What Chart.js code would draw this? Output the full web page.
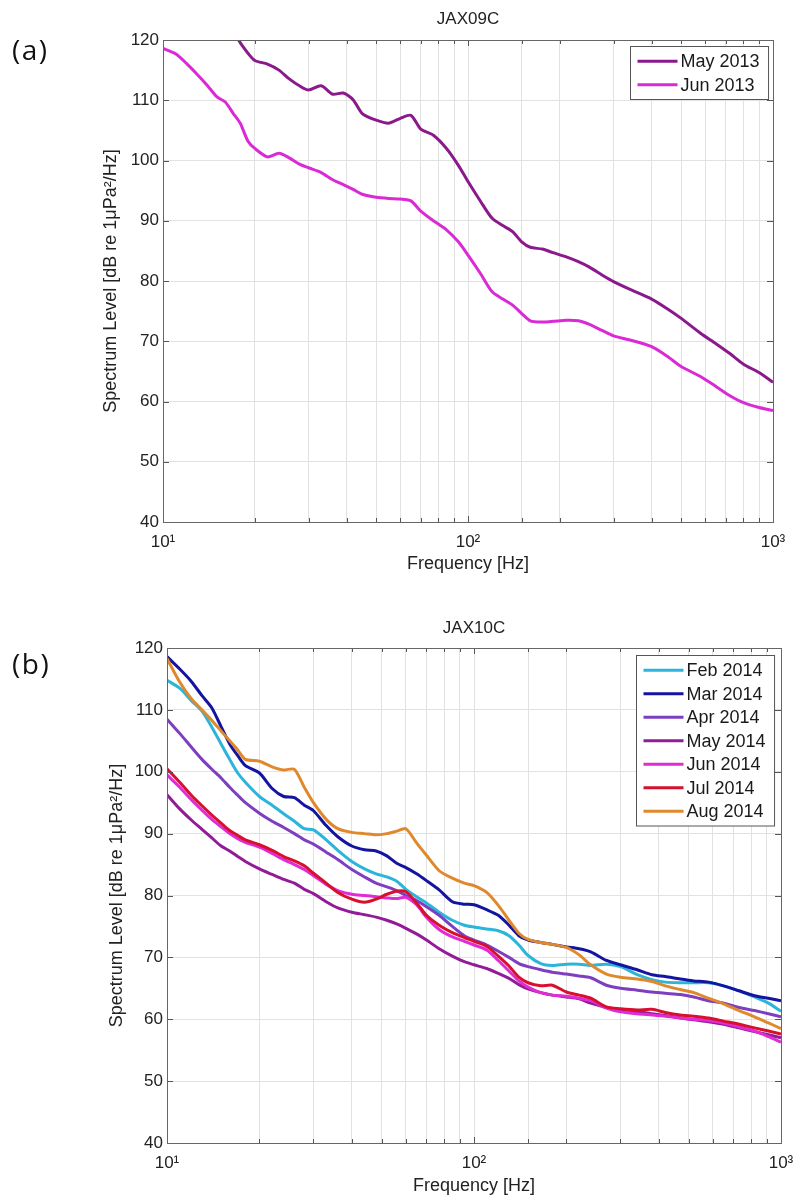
<!DOCTYPE html>
<html><head><meta charset="utf-8">
<script src="https://cdn.jsdelivr.net/npm/chart.js@4.4.0/dist/chart.umd.min.js"></script>
<style>
html,body{margin:0;padding:0;background:#fff;}
#wrap{position:relative;width:794px;height:1199px;overflow:hidden;background:#fff;}
canvas{position:absolute;left:0;}
#ca{top:0;} #cb{top:590px;}
.tag{position:absolute;left:12px;font-family:"Open Sans",sans-serif;font-size:28px;line-height:28px;letter-spacing:1.5px;color:#111;}
</style></head><body>
<div id="wrap">
<canvas id="ca" width="794" height="590"></canvas>
<canvas id="cb" width="794" height="609"></canvas>
<div class="tag" style="top:35px">(a)</div>
<div class="tag" style="top:649px">(b)</div>
</div>
<script>
// ---------- data ----------
const xTickValues = [10, 100, 1000];
const xTickLabels = ['10\u00B9', '10\u00B2', '10\u00B3'];

const freqA = [10, 11, 12, 13, 14, 15, 16, 17, 17.7, 18, 19, 20, 22, 24, 26, 28, 30, 33, 36, 39, 42, 45, 50, 55, 60, 65, 70, 77, 85, 93, 100, 110, 120, 130, 140, 150, 160, 175, 190, 210, 230, 250, 275, 300, 340, 400, 450, 500, 580, 650, 720, 800, 900, 1000];
const may2013 = [null, null, null, null, null, null, null, null, 120.0, 119.4, 117.8, 116.6, 116.0, 115.0, 113.5, 112.4, 111.7, 112.4, 111.0, 111.2, 110.1, 107.8, 106.7, 106.2, 107.0, 107.5, 105.2, 104.2, 102.0, 99.2, 96.5, 93.2, 90.4, 89.2, 88.2, 86.5, 85.6, 85.3, 84.7, 84.0, 83.2, 82.3, 81.0, 79.9, 78.6, 77.0, 75.4, 73.8, 71.3, 69.6, 68.0, 66.2, 64.8, 63.2];
const jun2013 = [118.6, 117.7, 116.0, 114.2, 112.4, 110.6, 109.7, 107.8, 106.6, 106.0, 103.2, 102.0, 100.6, 101.2, 100.4, 99.4, 98.8, 98.0, 96.8, 96.0, 95.2, 94.4, 93.9, 93.7, 93.6, 93.3, 91.6, 90.0, 88.5, 86.5, 84.3, 81.2, 78.2, 77.0, 76.0, 74.6, 73.4, 73.2, 73.3, 73.5, 73.4, 72.8, 71.8, 70.9, 70.2, 69.1, 67.5, 65.8, 64.1, 62.5, 61.0, 59.8, 59.0, 58.5];

const freqB = [10, 11, 12, 13, 14, 15, 16, 17, 18, 20, 22, 24, 26, 28, 30, 33, 36, 40, 44, 48, 52, 56, 60, 65, 70, 77, 85, 93, 100, 110, 120, 130, 140, 150, 165, 180, 200, 220, 240, 270, 300, 340, 380, 420, 470, 520, 580, 650, 730, 820, 910, 1000];
const feb2014 = [114.8, 113.5, 111.5, 109.8, 107.2, 104.5, 102.0, 99.8, 98.3, 96.0, 94.6, 93.2, 92.0, 90.8, 90.6, 89.0, 87.3, 85.5, 84.3, 83.5, 83.0, 82.3, 81.0, 79.8, 78.8, 77.3, 76.0, 75.2, 74.9, 74.6, 74.3, 73.5, 72.0, 70.3, 69.0, 68.7, 68.9, 68.9, 68.7, 68.9, 68.5, 67.2, 66.4, 66.0, 65.9, 65.9, 65.9, 65.4, 64.6, 63.6, 62.6, 61.3];
const mar2014 = [118.6, 116.6, 114.6, 112.3, 110.3, 107.3, 104.5, 102.6, 101.0, 99.8, 97.3, 96.0, 95.8, 94.6, 93.7, 91.3, 89.5, 88.0, 87.4, 87.2, 86.4, 85.2, 84.5, 83.5, 82.4, 80.9, 79.0, 78.6, 78.5, 77.7, 76.8, 75.2, 73.5, 72.8, 72.4, 72.1, 71.7, 71.4, 70.9, 69.5, 68.8, 68.0, 67.2, 66.9, 66.5, 66.2, 66.0, 65.4, 64.6, 63.8, 63.4, 63.0];
const apr2014 = [108.5, 106.2, 104.0, 102.0, 100.4, 99.0, 97.5, 96.2, 95.0, 93.3, 92.0, 91.0, 90.0, 89.0, 88.3, 87.0, 85.8, 84.2, 83.0, 82.0, 81.4, 80.8, 80.0, 79.2, 78.2, 76.8, 75.0, 73.5, 72.8, 72.0, 71.0, 70.0, 69.0, 68.5, 68.0, 67.6, 67.3, 67.0, 66.7, 65.5, 65.0, 64.7, 64.4, 64.2, 64.0, 63.6, 63.0, 62.6, 61.9, 61.4, 60.9, 60.4];
const may2014 = [96.3, 94.0, 92.2, 90.7, 89.3, 88.0, 87.2, 86.3, 85.5, 84.3, 83.4, 82.6, 82.0, 81.0, 80.3, 79.0, 78.0, 77.3, 76.9, 76.5, 76.0, 75.4, 74.7, 73.8, 72.8, 71.4, 70.2, 69.3, 68.8, 68.2, 67.4, 66.6, 65.6, 64.9, 64.3, 63.9, 63.6, 63.3, 62.6, 61.9, 61.4, 61.2, 60.9, 60.6, 60.2, 59.9, 59.6, 59.2, 58.6, 58.0, 57.5, 57.0];
const jun2014 = [99.5, 97.5, 95.5, 93.8, 92.3, 91.1, 90.0, 89.2, 88.6, 87.8, 86.8, 85.8, 85.0, 84.2, 83.2, 81.8, 80.8, 80.2, 80.0, 79.8, 79.6, 79.5, 79.7, 78.5, 76.5, 74.5, 73.3, 72.6, 72.0, 71.2, 69.5, 67.8, 66.2, 65.2, 64.3, 63.9, 63.7, 63.4, 63.0, 61.8, 61.2, 60.9, 60.7, 60.5, 60.2, 60.0, 59.8, 59.4, 58.8, 58.1, 57.2, 56.3];
const jul2014 = [100.5, 98.3, 96.2, 94.5, 93.0, 91.7, 90.5, 89.7, 89.0, 88.2, 87.3, 86.3, 85.6, 84.8, 83.6, 82.0, 80.5, 79.4, 78.9, 79.4, 80.2, 80.7, 80.6, 78.8, 76.8, 75.2, 74.0, 73.2, 72.6, 71.8, 70.2, 68.6, 66.8, 65.9, 65.4, 65.5, 64.4, 63.9, 63.4, 62.0, 61.7, 61.5, 61.6, 61.1, 60.7, 60.5, 60.2, 59.7, 59.2, 58.6, 58.1, 57.6];
const aug2014 = [118.3, 114.5, 111.8, 110.0, 108.3, 106.6, 105.0, 103.5, 102.0, 101.7, 100.8, 100.3, 100.4, 97.5, 95.0, 92.3, 90.8, 90.2, 90.0, 89.8, 90.0, 90.4, 90.8, 88.5, 86.5, 84.0, 82.8, 82.0, 81.6, 80.5, 78.4, 76.0, 73.9, 72.9, 72.4, 72.1, 71.6, 70.4, 68.8, 67.3, 66.8, 66.5, 66.1, 65.4, 64.8, 64.3, 63.4, 62.5, 61.4, 60.4, 59.4, 58.5];

// ---------- drawing ----------
Chart.defaults.font.family = "'Liberation Sans', Arial, sans-serif";
Chart.defaults.color = '#222';

const framePlugin = {
  id: 'frame',
  afterDatasetsDraw(chart) {
    const ctx = chart.ctx, a = chart.chartArea, xs = chart.scales.x, ys = chart.scales.y;
    ctx.save();
    ctx.strokeStyle = '#555';
    ctx.lineWidth = 1;
    ctx.beginPath();
    xs.ticks.forEach(t => {
      const px = Math.round(xs.getPixelForValue(t.value)) + 0.5;
      const len = xTickValues.includes(t.value) ? 6 : 4;
      ctx.moveTo(px, a.bottom); ctx.lineTo(px, a.bottom - len);
      ctx.moveTo(px, a.top); ctx.lineTo(px, a.top + len);
    });
    ys.ticks.forEach(t => {
      const py = Math.round(ys.getPixelForValue(t.value)) + 0.5;
      ctx.moveTo(a.left, py); ctx.lineTo(a.left + 6, py);
      ctx.moveTo(a.right, py); ctx.lineTo(a.right - 6, py);
    });
    ctx.stroke();
    ctx.strokeStyle = '#666';
    ctx.strokeRect(Math.round(a.left) + 0.5, Math.round(a.top) + 0.5, Math.round(a.right - a.left), Math.round(a.bottom - a.top));
    ctx.restore();
  }
};

const boxLegendPlugin = {
  id: 'boxLegend',
  afterDraw(chart, args, opts) {
    const ctx = chart.ctx, a = chart.chartArea;
    const ds = chart.data.datasets;
    const rowH = opts.rowH || 23.5;
    ctx.save();
    ctx.font = '18px ' + Chart.defaults.font.family;
    let tw = 0;
    ds.forEach(d => { tw = Math.max(tw, ctx.measureText(d.label).width); });
    const lineLen = 40, padL = 7, gap = 3, padR = 9;
    const w = padL + lineLen + gap + tw + padR;
    const h = ds.length * rowH + 6;
    const x0 = Math.round(a.right - opts.offR - w) + 0.5;
    const y0 = Math.round(a.top + opts.offT) + 0.5;
    ctx.fillStyle = '#fff';
    ctx.fillRect(x0, y0, w, h);
    ctx.strokeStyle = '#555';
    ctx.lineWidth = 1;
    ctx.strokeRect(x0, y0, w, h);
    ds.forEach((d, i) => {
      const cy = y0 + 3 + rowH * (i + 0.5);
      ctx.strokeStyle = d.borderColor;
      ctx.lineWidth = 3;
      ctx.beginPath();
      ctx.moveTo(x0 + padL, cy); ctx.lineTo(x0 + padL + lineLen, cy);
      ctx.stroke();
      ctx.fillStyle = '#1a1a1a';
      ctx.textBaseline = 'middle';
      ctx.fillText(d.label, x0 + padL + lineLen + gap, cy + 1);
    });
    ctx.restore();
  }
};

function toPoints(freq, vals) {
  const out = [];
  freq.forEach((f, i) => { if (vals[i] !== null) out.push({x: f, y: vals[i]}); });
  return out;
}

function makeChart(id, title, freq, series, g) {
  const n = series.length;
  new Chart(document.getElementById(id), {
    type: 'line',
    data: {
      datasets: series.map((s, i) => ({
        label: s.label,
        data: toPoints(freq, s.values),
        borderColor: s.color,
        backgroundColor: s.color,
        borderWidth: 3,
        pointRadius: 0,
        tension: 0.25,
        fill: false,
        order: n - 1 - i
      }))
    },
    options: {
      responsive: false,
      devicePixelRatio: 1,
      animation: false,
      layout: { padding: { left: g.padLeft, right: g.padRight, top: 0, bottom: 0 } },
      plugins: {
        legend: { display: false },
        tooltip: { enabled: false },
        title: {
          display: true, text: title, fullSize: false,
          font: { size: 17, weight: 'normal' }, color: '#222',
          padding: { top: g.titleTop, bottom: g.titleBottom }
        },
        boxLegend: { rowH: 23.5, offR: g.legR, offT: g.legT }
      },
      scales: {
        x: {
          type: 'logarithmic', min: 10, max: 1000,
          afterFit: s => { s.height = g.xHeight; s.paddingRight = 4; s.paddingLeft = 4; },
          border: { display: false },
          grid: { color: '#e2e2e2', drawTicks: false, lineWidth: 1 },
          ticks: {
            autoSkip: false, maxRotation: 0, padding: 10,
            font: { size: 17 }, color: '#222',
            callback: v => {
              const k = xTickValues.findIndex(t => Math.abs(t - v) < 1e-6);
              return k >= 0 ? xTickLabels[k] : '';
            }
          },
          title: { display: true, text: 'Frequency [Hz]', font: { size: 18 }, color: '#222', padding: { top: 0, bottom: g.xTitleBottom } }
        },
        y: {
          min: 40, max: 120,
          afterFit: s => { s.width = g.yWidth; },
          border: { display: false },
          grid: { color: '#e2e2e2', drawTicks: false, lineWidth: 1 },
          ticks: { stepSize: 10, padding: 4, font: { size: 17 }, color: '#222' },
          title: { display: true, text: 'Spectrum Level [dB re 1\u03BCPa\u00B2/Hz]', font: { size: 18 }, color: '#222', padding: { top: g.yTitleTop, bottom: 0 } }
        }
      }
    },
    plugins: [framePlugin, boxLegendPlugin]
  });
}

makeChart('ca', 'JAX09C', freqA, [
  { label: 'May 2013', values: may2013, color: '#8A1A8C' },
  { label: 'Jun 2013', values: jun2013, color: '#D92AD6' }
], { padLeft: 90, padRight: 21, yWidth: 73, xHeight: 68, titleTop: 8.8, titleBottom: 10.8, xTitleBottom: 15, yTitleTop: 10, legR: 5, legT: 6 });

makeChart('cb', 'JAX10C', freqB, [
  { label: 'Feb 2014', values: feb2014, color: '#2BB5DA' },
  { label: 'Mar 2014', values: mar2014, color: '#1414A0' },
  { label: 'Apr 2014', values: apr2014, color: '#7E3EC0' },
  { label: 'May 2014', values: may2014, color: '#921C98' },
  { label: 'Jun 2014', values: jun2014, color: '#E02CD4' },
  { label: 'Jul 2014', values: jul2014, color: '#D8102E' },
  { label: 'Aug 2014', values: aug2014, color: '#E0892C' }
], { padLeft: 90, padRight: 13, yWidth: 77, xHeight: 56, titleTop: 27.8, titleBottom: 9.8, xTitleBottom: 2, yTitleTop: 16, legR: 7, legT: 7 });
</script>
</body></html>
